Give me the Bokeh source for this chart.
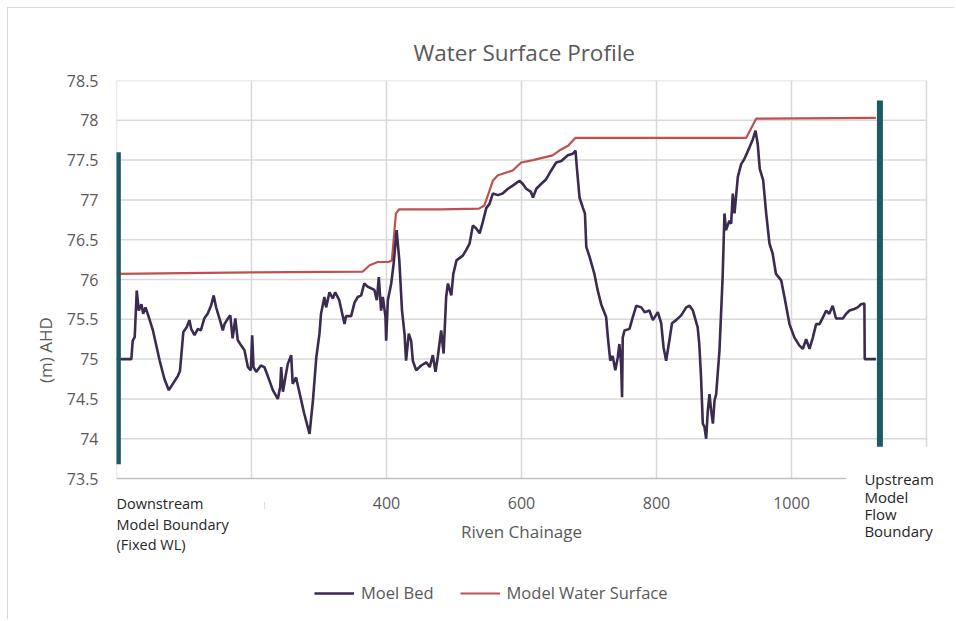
from bokeh.plotting import figure
from bokeh.models import FixedTicker, Label, Legend, LegendItem, Range1d
from bokeh.embed import file_html
from bokeh.resources import INLINE

# ---- data ----
bed_chainage = [0, 22, 24, 27, 30, 33, 37, 39.5, 43, 47, 54, 64, 71, 77.5, 82, 91, 94, 99, 104, 108,
                110.6, 115.6, 120.5, 125, 130, 135, 140, 144, 147.6, 152.6, 157.5, 160, 165, 168.6, 172,
                176, 179.6, 184.7, 189.6, 194.6, 199, 201, 203, 207, 214, 219, 224, 231.6, 239, 242.5,
                244, 246.6, 250.6, 253.8, 258.8, 261, 266, 270, 278, 286, 291, 296, 300.7, 303, 308,
                310.6, 315.5, 320.5, 324, 330, 337.8, 340, 347.6, 352.6, 357.5, 362.5, 367, 372, 377,
                382, 385.7, 388.6, 392, 394.6, 398.5, 399.5, 402, 407, 410.6, 415, 419, 423, 426.7, 429,
                433, 436.5, 439, 444, 451.4, 459, 464, 468.6, 472.6, 476, 481, 484.6, 488.4, 491, 496,
                499, 503.7, 513, 518, 523, 528, 533, 538, 542.6, 548, 552.6, 557.5, 565, 572, 580, 587,
                597, 602, 607, 614, 617, 622, 629, 636.6, 644, 651.4, 659, 668.6, 676, 680, 682, 686,
                691, 694, 696, 701, 708, 713, 718, 725.4, 728, 731.5, 735, 739, 742.6, 745, 747.6, 749,
                750, 752.6, 760, 765, 770, 777.6, 782.5, 789.6, 794.6, 802, 807, 810.4, 814.3, 819, 823,
                829, 836.6, 844, 849, 854, 861, 863.4, 866, 868.6, 871, 873.6, 876, 878.5, 881, 883.6,
                886, 888.4, 893.3, 898, 900.7, 903, 908, 910.6, 913, 915.6, 920.5, 925.4, 930, 937.8,
                942.7, 946.7, 950, 953, 958, 962.5, 967.4, 972, 977, 984.7, 989.6, 997, 1004.4, 1011.8,
                1016.8, 1021.7, 1026.7, 1031.6, 1036.5, 1041.5, 1046.4, 1051.4, 1056, 1061, 1066, 1076,
                1081, 1086, 1093, 1098, 1103, 1108, 1108.5, 1125]
bed_level = [75.0, 75.0, 75.23, 75.28, 75.86, 75.61, 75.69, 75.57, 75.65, 75.55, 75.36, 74.98, 74.75,
             74.61, 74.67, 74.79, 74.85, 75.34, 75.40, 75.49, 75.38, 75.30, 75.38, 75.36, 75.51, 75.57,
             75.67, 75.80, 75.65, 75.51, 75.36, 75.44, 75.51, 75.55, 75.26, 75.51, 75.24, 75.17, 75.11,
             74.90, 74.86, 75.30, 74.90, 74.84, 74.92, 74.90, 74.79, 74.61, 74.50, 74.65, 74.90, 74.59,
             74.79, 74.94, 75.05, 74.69, 74.77, 74.62, 74.32, 74.06, 74.48, 75.02, 75.32, 75.57, 75.78,
             75.65, 75.84, 75.76, 75.84, 75.74, 75.44, 75.54, 75.54, 75.71, 75.78, 75.80, 75.95, 75.91,
             75.89, 75.87, 75.74, 76.03, 75.61, 75.78, 75.53, 75.23, 75.74, 75.95, 76.20, 76.62, 76.24,
             75.61, 75.32, 74.98, 75.32, 75.23, 74.98, 74.86, 74.92, 74.96, 74.90, 75.05, 74.84, 75.03,
             75.36, 75.07, 75.78, 75.95, 75.80, 76.07, 76.24, 76.30, 76.37, 76.45, 76.68, 76.64, 76.58,
             76.72, 76.90, 76.95, 77.08, 77.06, 77.08, 77.14, 77.18, 77.24, 77.20, 77.14, 77.10, 77.03,
             77.14, 77.20, 77.26, 77.37, 77.47, 77.49, 77.56, 77.58, 77.62, 77.41, 77.03, 76.90, 76.83,
             76.41, 76.28, 76.07, 75.86, 75.69, 75.53, 75.27, 74.98, 75.04, 74.86, 75.02, 75.19, 74.94,
             74.52, 75.27, 75.36, 75.38, 75.53, 75.67, 75.65, 75.59, 75.61, 75.49, 75.59, 75.45, 75.15,
             74.98, 75.23, 75.45, 75.49, 75.55, 75.65, 75.67, 75.61, 75.40, 75.19, 74.77, 74.19, 74.15,
             74.00, 74.35, 74.56, 74.35, 74.19, 74.48, 74.56, 75.11, 76.03, 76.83, 76.62, 76.74, 76.70,
             77.08, 76.83, 77.29, 77.45, 77.51, 77.66, 77.76, 77.87, 77.70, 77.39, 77.25, 76.83, 76.45,
             76.33, 76.07, 75.99, 75.78, 75.44, 75.27, 75.17, 75.13, 75.25, 75.13, 75.27, 75.44, 75.44,
             75.52, 75.61, 75.57, 75.67, 75.51, 75.51, 75.57, 75.61, 75.63, 75.65, 75.69, 75.70, 75.00,
             75.00]

water_chainage = [0, 100, 200, 365, 375, 387, 403, 408, 414, 418.5, 480, 537, 545, 552, 557.5, 565,
                  587, 599.5, 617, 646, 656, 669, 680, 933, 947.6, 1125]
water_level = [76.07, 76.08, 76.09, 76.10, 76.18, 76.22, 76.22, 76.24, 76.83, 76.88, 76.88, 76.89,
               76.93, 77.10, 77.24, 77.31, 77.37, 77.47, 77.50, 77.56, 77.62, 77.68, 77.78, 77.78,
               78.02, 78.03]

boundary_chainage = [2, 1131]
boundary_top = [77.6, 78.25]
boundary_bottom = [73.68, 73.9]

x_ticks = [0, 200, 400, 600, 800, 1000]
x_tick_labels = ["", "", "400", "600", "800", "1000"]
x_max = 1200
y_ticks = [73.5, 74, 74.5, 75, 75.5, 76, 76.5, 77, 77.5, 78, 78.5]
y_tick_labels = ["73.5", "74", "74.5", "75", "75.5", "76", "76.5", "77", "77.5", "78", "78.5"]

FONT = "Open Sans"
GREY = "#595959"
GRID = "#d9d9d9"

y_lo, y_hi = y_ticks[0], y_ticks[-1]

# frame spans from the plot area down to the bottom of the figure so that the
# annotations and the legend below the axis are drawn inside it
p = figure(width=954, height=619, x_range=Range1d(0, 1241.5), y_range=Range1d(71.729, y_hi),
           output_backend="svg", toolbar_location=None,
           min_border_left=116, min_border_right=0, min_border_top=80, min_border_bottom=0)
p.outline_line_color = None
p.border_fill_color = None
p.styles = {
    "background": ("linear-gradient(#d9d9d9, #d9d9d9) 7px 7px / 1px 100% no-repeat, "
                   "linear-gradient(#d9d9d9, #d9d9d9) 7px 7px / 100% 1px no-repeat, white"),
}
p.xgrid.visible = False
p.ygrid.visible = False

p.title.text = "Water Surface Profile"
p.title.align = "left"
p.title.offset = 297
p.title.text_font = FONT
p.title.text_font_size = "22.5px"
p.title.text_font_style = "normal"
p.title.text_color = GREY
p.title.standoff = 25

# grid lines limited to the plotting area
p.segment(x0=x_ticks, y0=[y_lo] * len(x_ticks), x1=x_ticks, y1=[y_hi] * len(x_ticks),
          line_color=GRID, line_width=1.5)
p.segment(x0=[0] * (len(y_ticks) - 1), y0=y_ticks[1:], x1=[x_max] * (len(y_ticks) - 1), y1=y_ticks[1:],
          line_color=GRID, line_width=1.5)
p.segment(x0=[x_max], y0=[boundary_bottom[1]], x1=[x_max], y1=[y_hi],
          line_color=GRID, line_width=1.5)
# visible part of the horizontal axis line
p.segment(x0=[0], y0=[y_lo], x1=[1081], y1=[y_lo], line_color="#bfbfbf", line_width=1.5)

# axes
xa = p.xaxis[0]
xa.fixed_location = y_lo
xa.ticker = FixedTicker(ticks=x_ticks)
xa.major_label_overrides = {t: l for t, l in zip(x_ticks, x_tick_labels)}
xa.bounds = (0, x_max)
xa.axis_line_color = None
xa.major_tick_line_color = None
xa.minor_tick_line_color = None
xa.major_label_standoff = 12
xa.major_label_text_font = FONT
xa.major_label_text_font_size = "16px"
xa.major_label_text_color = GREY
xa.axis_label = "Riven Chainage"
xa.axis_label_text_font = FONT
xa.axis_label_text_font_size = "17px"
xa.axis_label_text_font_style = "normal"
xa.axis_label_text_color = GREY
xa.axis_label_standoff = 8

ya = p.yaxis[0]
ya.ticker = FixedTicker(ticks=y_ticks)
ya.major_label_overrides = {t: l for t, l in zip(y_ticks, y_tick_labels)}
ya.bounds = (y_lo, y_hi)
ya.axis_line_color = None
ya.major_tick_line_color = None
ya.minor_tick_line_color = None
ya.major_label_standoff = 12
ya.major_label_text_font = FONT
ya.major_label_text_font_size = "16px"
ya.major_label_text_color = GREY
ya.axis_label = "(m) AHD"
ya.axis_label_text_font = FONT
ya.axis_label_text_font_size = "17px"
ya.axis_label_text_font_style = "normal"
ya.axis_label_text_color = GREY
ya.axis_label_standoff = 7

# series
r_water = p.line(water_chainage, water_level, line_color="#c0504d", line_width=2.2)
r_bed = p.line(bed_chainage, bed_level, line_color="#3a2b4f", line_width=2.6)

# boundary markers
p.segment(x0=boundary_chainage, y0=boundary_bottom, x1=boundary_chainage, y1=boundary_top,
          line_color="#1e5a62", line_width=6)

# annotations
p.add_layout(Label(x=0, y=73.30, text="Downstream\nModel Boundary\n(Fixed WL)",
                   text_font=FONT, text_font_size="14.5px", text_color="#262626",
                   text_baseline="top", text_align="left", text_line_height=1.08))
p.add_layout(Label(x=1108, y=73.615, text="Upstream\nModel\nFlow\nBoundary",
                   text_font=FONT, text_font_size="15px", text_color="#262626",
                   text_baseline="top", text_align="left", text_line_height=0.86))
# faint remnant of the hidden "200" tick label
p.add_layout(Label(x=219, y=73.18, text="|", text_font=FONT, text_font_size="8px",
                   text_color="#9fcdf2", text_baseline="middle", text_align="center"))

legend = Legend(items=[LegendItem(label="Moel Bed", renderers=[r_bed]),
                       LegendItem(label="Model Water Surface", renderers=[r_water])],
                orientation="horizontal", location=(198, 15),
                border_line_color=None, background_fill_alpha=0,
                glyph_width=40, glyph_height=20, label_height=20, label_standoff=7,
                spacing=26, padding=0, margin=0,
                label_text_font=FONT, label_text_font_size="16.5px", label_text_color=GREY)
p.add_layout(legend, "center")

open("out.html", "w").write(file_html(p, INLINE))
